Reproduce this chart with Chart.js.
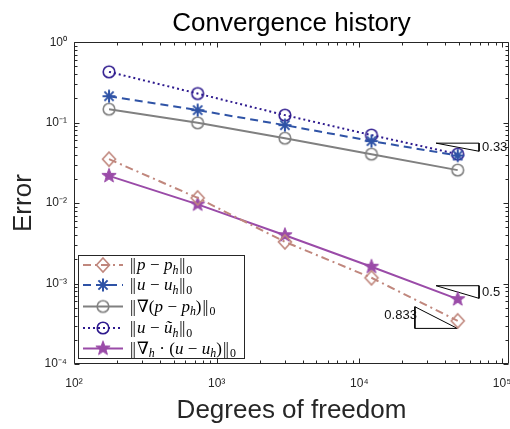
<!DOCTYPE html>
<html><head><meta charset="utf-8">
<script src="https://cdn.jsdelivr.net/npm/chart.js@4.4.1/dist/chart.umd.min.js"></script>
<style>html,body{margin:0;padding:0;background:#fff}canvas{display:block}</style>
</head><body>
<canvas id="c" width="510" height="429"></canvas>
<script>
// ---------- data ----------
const dof = [176, 736, 3008, 12160, 48896];
const errP      = [0.0352, 0.0116, 0.0033, 0.00118, 0.000344];
const errU      = [0.213, 0.143, 0.093, 0.059, 0.039];
const errGradP  = [0.147, 0.0995, 0.064, 0.0406, 0.0257];
const errUTilde = [0.428, 0.230, 0.124, 0.070, 0.0406];
const errDivU   = [0.0218, 0.00964, 0.00399, 0.00162, 0.00064];

const xTickValues = [1e2, 1e3, 1e4, 1e5];
const xTickLabels = ['10²', '10³', '10⁴', '10⁵'];
const yTickValues = [1e-4, 1e-3, 1e-2, 1e-1, 1];
const yTickLabels = ['10⁻⁴', '10⁻³', '10⁻²', '10⁻¹', '10⁰'];

// slope triangles (data coordinates)
const triTopX = [34500, 69000];
const triTopY = [0.0556, 0.0441];
const triMidX = [34500, 69000];
const triMidY = [0.00094, 0.000655];
const triBotX = [24500, 48600];
const triBotY = [0.000515, 0.000277];
const slopeTexts = ['0.33', '0.5', '0.833'];

const titleText = 'Convergence history';
const xTitle = 'Degrees of freedom';
const yTitle = 'Error';

// ---------- styles ----------
const cP = '#c0877d', cU = '#2f53a6', cG = '#808080', cT = '#2e1a8e', cD = '#9a4ba8';
const axisColor = '#262626';
const sansFont = '"Liberation Sans", Arial, Helvetica, sans-serif';
const serifFont = '"Liberation Serif", "DejaVu Serif", serif';
const X_MAX = 111900;

function makeMarker(kind, color) {
  const c = document.createElement('canvas');
  c.width = 20; c.height = 20;
  const g = c.getContext('2d');
  g.translate(10, 10);
  g.strokeStyle = color; g.fillStyle = color; g.lineWidth = 1.6;
  if (kind === 'diamond') {
    g.beginPath(); g.moveTo(0, -7); g.lineTo(6.5, 0); g.lineTo(0, 7); g.lineTo(-6.5, 0); g.closePath(); g.stroke();
  } else if (kind === 'circle') {
    g.beginPath(); g.arc(0, 0, 5.8, 0, Math.PI * 2); g.stroke();
  } else if (kind === 'asterisk') {
    g.lineWidth = 2;
    g.beginPath();
    g.moveTo(0, -6.5); g.lineTo(0, 6.5);
    g.moveTo(-6.5, 0); g.lineTo(6.5, 0);
    g.moveTo(-4.6, -4.6); g.lineTo(4.6, 4.6);
    g.moveTo(-4.6, 4.6); g.lineTo(4.6, -4.6);
    g.stroke();
  } else if (kind === 'star') {
    g.beginPath();
    for (let i = 0; i < 10; i++) {
      const r = i % 2 === 0 ? 7.5 : 3.1;
      const a = -Math.PI / 2 + i * Math.PI / 5;
      const px = r * Math.cos(a), py = r * Math.sin(a);
      i === 0 ? g.moveTo(px, py) : g.lineTo(px, py);
    }
    g.closePath(); g.fill(); g.lineWidth = 1; g.stroke();
  }
  return c;
}
const mkP = makeMarker('diamond', cP), mkU = makeMarker('asterisk', cU), mkG = makeMarker('circle', cG),
      mkT = makeMarker('circle', cT), mkD = makeMarker('star', cD);

const pts = ys => dof.map((x, i) => ({x, y: ys[i]}));
const triTop = [{x: triTopX[0], y: triTopY[0]}, {x: triTopX[1], y: triTopY[0]}, {x: triTopX[1], y: triTopY[1]}, {x: triTopX[0], y: triTopY[0]}];
const triMid = [{x: triMidX[0], y: triMidY[0]}, {x: triMidX[1], y: triMidY[0]}, {x: triMidX[1], y: triMidY[1]}, {x: triMidX[0], y: triMidY[0]}];
const triBot = [{x: triBotX[0], y: triBotY[0]}, {x: triBotX[0], y: triBotY[1]}, {x: triBotX[1], y: triBotY[1]}, {x: triBotX[0], y: triBotY[0]}];

const series = [
  {data: pts(errP), color: cP, marker: mkP, dash: [8, 4, 2, 4]},
  {data: pts(errU), color: cU, marker: mkU, dash: [8, 5]},
  {data: pts(errGradP), color: cG, marker: mkG, dash: []},
  {data: pts(errUTilde), color: cT, marker: mkT, dash: [2, 3]},
  {data: pts(errDivU), color: cD, marker: mkD, dash: []},
];

const datasets = series.map(s => ({
  data: s.data, borderColor: s.color, backgroundColor: s.color, borderWidth: 2,
  borderDash: s.dash, pointStyle: s.marker, pointRadius: 6, pointHoverRadius: 6,
  tension: 0, fill: false
}));
[triTop, triMid, triBot].forEach(t => datasets.push({
  data: t, borderColor: '#000', borderWidth: 1, pointRadius: 0, fill: false, tension: 0
}));

function logTicks(lo, hi, extraMax) {
  const out = [];
  for (let e = lo; e <= hi; e++) {
    for (let m = 1; m <= 9; m++) {
      if (e === hi && m > 1) break;
      out.push({value: m * Math.pow(10, e), major: m === 1});
    }
  }
  if (extraMax) out.push({value: extraMax, extra: true});
  return out;
}
function labelFor(v, vals, labels) {
  for (let i = 0; i < vals.length; i++) if (Math.abs(v / vals[i] - 1) < 1e-6) return labels[i];
  return '';
}

// ---------- legend (math text) ----------
const N = {norm: 1};
const legendRows = [
  [N, {t: 'p', it: 1}, {t: '−', op: 1}, {t: 'p', it: 1}, {t: 'h', it: 1, sub: 1}, N, {t: '0', sub: 1}],
  [N, {t: 'u', it: 1}, {t: '−', op: 1}, {t: 'u', it: 1}, {t: 'h', it: 1, sub: 1}, N, {t: '0', sub: 1}],
  [N, {t: '∇('}, {t: 'p', it: 1}, {t: '−', op: 1}, {t: 'p', it: 1}, {t: 'h', it: 1, sub: 1}, {t: ')'}, N, {t: '0', sub: 1}],
  [N, {t: 'u', it: 1}, {t: '−', op: 1}, {t: 'ũ', it: 1}, {t: 'h', it: 1, sub: 1}, N, {t: '0', sub: 1}],
  [N, {t: '∇'}, {t: 'h', it: 1, sub: 1}, {t: '·', op: 1}, {t: '('}, {t: 'u', it: 1}, {t: '−', op: 1}, {t: 'u', it: 1}, {t: 'h', it: 1, sub: 1}, {t: ')'}, N, {t: '0', sub: 1}],
];

function drawMath(ctx, x, y, segs, size) {
  ctx.textBaseline = 'alphabetic';
  ctx.textAlign = 'left';
  for (const s of segs) {
    if (s.norm) {
      ctx.font = size + 'px ' + serifFont;
      const w = ctx.measureText('|').width;
      x += 1;
      ctx.fillText('|', x, y);
      ctx.fillText('|', x + w * 0.75, y);
      x += w * 1.75 + 1;
      continue;
    }
    const fs = s.sub ? size * 0.7 : size;
    ctx.font = (s.it ? 'italic ' : '') + fs + 'px ' + serifFont;
    const pad = s.op ? size * 0.26 : 0;
    x += pad;
    ctx.fillText(s.t, x, y + (s.sub ? size * 0.22 : 0));
    x += ctx.measureText(s.t).width + pad;
  }
}

const framePlugin = {
  id: 'frame',
  afterDatasetsDraw(chart) {
    const {ctx, chartArea: a, scales: {x, y}} = chart;
    ctx.save();
    ctx.strokeStyle = axisColor; ctx.lineWidth = 1;
    const L = Math.round(a.left) + 0.5, R = Math.round(a.right) - 0.5, T = Math.round(a.top) + 0.5, B = Math.round(a.bottom) - 0.5;
    ctx.beginPath(); ctx.rect(L, T, R - L, B - T); ctx.stroke();
    ctx.beginPath();
    x.ticks.forEach(t => {
      if (t.extra) return;
      const px = Math.round(x.getPixelForValue(t.value)) + 0.5;
      const len = t.major ? 5 : 3;
      ctx.moveTo(px, B); ctx.lineTo(px, B - len);
      ctx.moveTo(px, T); ctx.lineTo(px, T + len);
    });
    y.ticks.forEach(t => {
      const py = Math.round(y.getPixelForValue(t.value)) + 0.5;
      const len = t.major ? 5 : 3;
      ctx.moveTo(L, py); ctx.lineTo(L + len, py);
      ctx.moveTo(R, py); ctx.lineTo(R - len, py);
    });
    ctx.stroke();

    // slope labels
    ctx.fillStyle = '#111';
    ctx.font = '13px ' + sansFont;
    ctx.textBaseline = 'middle';
    ctx.textAlign = 'left';
    const gm = (a1, b1) => Math.sqrt(a1 * b1);
    ctx.fillText(slopeTexts[0], x.getPixelForValue(triTopX[1]) + 3, y.getPixelForValue(gm(triTopY[0], triTopY[1])));
    ctx.fillText(slopeTexts[1], x.getPixelForValue(triMidX[1]) + 3, y.getPixelForValue(gm(triMidY[0], triMidY[1])));
    ctx.textAlign = 'right';
    ctx.fillText(slopeTexts[2], x.getPixelForValue(triBotX[0]) + 2, y.getPixelForValue(gm(triBotY[0], triBotY[1])) - 2);
    ctx.restore();
  },
  afterDraw(chart) {
    const ctx = chart.ctx;
    ctx.save();
    const bx = 78.5, by = 255.5, bw = 166, bh = 103;
    ctx.fillStyle = '#fff';
    ctx.fillRect(bx, by, bw, bh);
    ctx.strokeStyle = axisColor; ctx.lineWidth = 1;
    ctx.strokeRect(bx, by, bw, bh);
    const rowY = [265, 285, 306.5, 328, 348.5];
    series.forEach((s, i) => {
      const yy = rowY[i];
      ctx.strokeStyle = s.color; ctx.lineWidth = 2; ctx.setLineDash(s.dash);
      ctx.beginPath(); ctx.moveTo(83, yy); ctx.lineTo(123, yy); ctx.stroke();
      ctx.setLineDash([]);
      ctx.drawImage(s.marker, 103 - 10, yy - 10);
      ctx.fillStyle = '#000';
      drawMath(ctx, 129, yy + 5, legendRows[i], 17);
    });
    ctx.restore();
  }
};

new Chart(document.getElementById('c'), {
  type: 'line',
  data: {datasets},
  options: {
    responsive: false,
    animation: false,
    devicePixelRatio: 1,
    layout: {autoPadding: false, padding: {left: 0, right: 1, top: 0, bottom: 0}},
    plugins: {
      legend: {display: false},
      tooltip: {enabled: false},
      title: {display: true, text: titleText, color: '#000', fullSize: false,
        font: {family: sansFont, size: 26, weight: 'normal', lineHeight: 1.2},
        padding: {top: 8, bottom: 3}}
    },
    scales: {
      x: {
        type: 'logarithmic', min: 100, max: X_MAX,
        grid: {display: false, drawTicks: true, tickLength: 12}, border: {display: false},
        afterBuildTicks: s => { s.ticks = logTicks(2, 5, X_MAX); },
        afterFit: s => { s.height = 65; s.paddingLeft = 0; s.paddingRight = 0; },
        ticks: {autoSkip: false, maxRotation: 0, padding: 0, color: axisColor,
          font: {family: sansFont, size: 12},
          callback: v => labelFor(v, xTickValues, xTickLabels)},
        title: {display: true, text: xTitle, color: axisColor,
          font: {family: sansFont, size: 26, lineHeight: 1.2}, padding: {top: 0, bottom: 3}}
      },
      y: {
        type: 'logarithmic', min: 1e-4, max: 1,
        grid: {display: false, drawTicks: false}, border: {display: false},
        afterBuildTicks: s => { s.ticks = logTicks(-4, 0); },
        afterFit: s => { s.width = 74; s.paddingTop = 0; s.paddingBottom = 0; },
        ticks: {autoSkip: false, padding: 7, color: axisColor,
          font: {family: sansFont, size: 12},
          callback: v => labelFor(v, yTickValues, yTickLabels)},
        title: {display: true, text: yTitle, color: axisColor,
          font: {family: sansFont, size: 26, lineHeight: 1.2}, padding: {top: 8, bottom: 0}}
      }
    }
  },
  plugins: [framePlugin]
});
</script>
</body></html>
